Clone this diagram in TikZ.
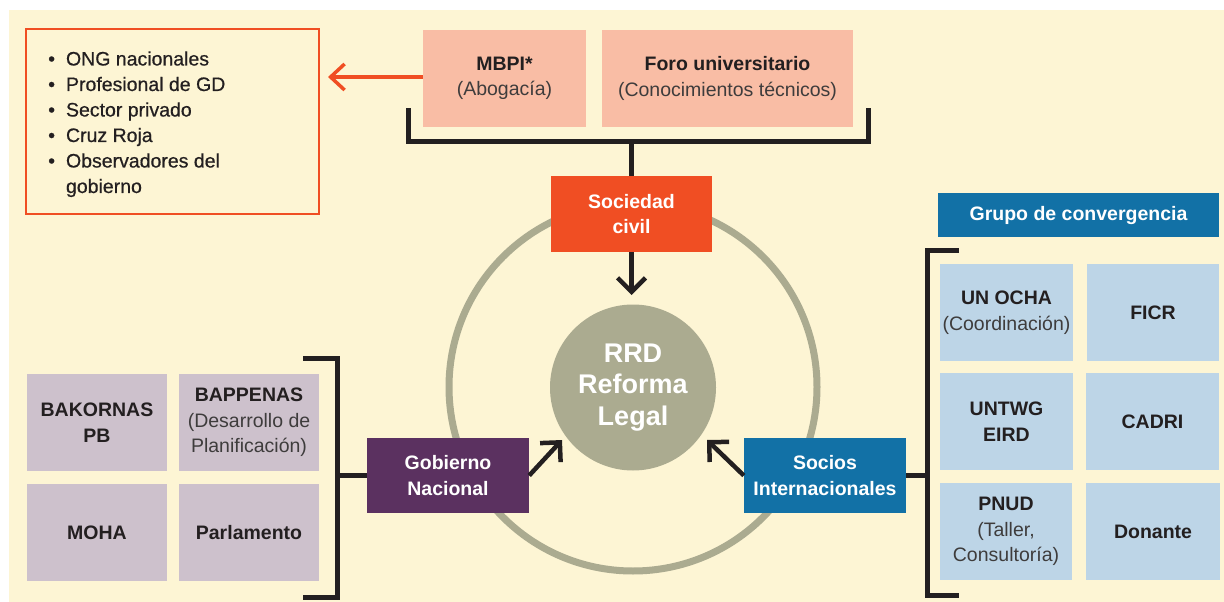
\documentclass[tikz,border=0pt]{standalone}
\usepackage{fontspec}
\setmainfont{Liberation Sans}
\newfontfamily\medfont[FakeBold=0.6]{Liberation Sans}
\usetikzlibrary{arrows.meta}
\definecolor{cream}{RGB}{253,245,212}
\definecolor{redo}{RGB}{240,78,35}
\definecolor{salmon}{RGB}{249,189,165}
\definecolor{ring}{RGB}{171,171,144}
\definecolor{purp}{RGB}{91,49,96}
\definecolor{blu}{RGB}{18,113,166}
\definecolor{lblue}{RGB}{189,213,231}
\definecolor{mauve}{RGB}{205,193,204}
\definecolor{ink}{RGB}{35,31,32}
\definecolor{soft}{RGB}{62,60,60}
\newcommand\lblfont{\fontsize{19.5}{25.5}\selectfont}
\newcommand\lt[1]{{\mdseries\color{soft}#1}}
\begin{document}
\begin{tikzpicture}[x=1pt,y=-1pt,
  lbl/.style={inner sep=0pt, align=center, font=\lblfont\bfseries, text=ink},
  pbox/.style={lbl, fill=salmon, minimum height=97pt},
  mbox/.style={lbl, fill=mauve, minimum width=140pt, minimum height=97pt},
  bbox/.style={lbl, fill=lblue, minimum width=133pt, minimum height=97pt},
  hub/.style={lbl, text=white, minimum width=162pt, minimum height=75pt},
  brk/.style={line width=5pt, draw=ink, line join=miter},
  arr/.style={line width=4.5pt, draw=ink, -{Straight Barb[length=14pt,width=28pt]}},
]
\useasboundingbox (0,0) rectangle (1224,602);
\fill[white] (0,0) rectangle (1224,602);
\fill[cream] (9,10) rectangle (1224,602);

% ring
\draw[ring, line width=7pt] (633,387) circle[radius=184];

% left list box
\node[draw=redo, line width=2pt, minimum width=293pt, minimum height=185pt, inner sep=0pt] (list) at (172.5,121.5) {};
\node[anchor=base west, inner sep=0pt, text=ink, font=\medfont\fontsize{19.5}{25.5}\selectfont] (items) at (48,65.5)
 {\begin{tabular}[t]{@{}l@{\hspace{11pt}}l@{}}
 •& ONG nacionales\\
 •& Profesional de GD\\
 •& Sector privado\\
 •& Cruz Roja\\
 •& Observadores del\\
  & gobierno
 \end{tabular}};

% top boxes
\node[pbox, minimum width=163pt] (mbpi) at (504.5,78.5) {MBPI*\\\lt{(Abogacía)}};
\node[pbox, minimum width=251pt] (foro) at (727.5,78.5) {Foro universitario\\\lt{(Conocimientos técnicos)}};
\coordinate (listtip) at (328,77);
\draw[redo, line width=3.5pt, -{Straight Barb[length=14pt,width=26pt]}] (mbpi.west |- listtip) -- (listtip);

% top bracket
\draw[brk] (408,108) -- (408,141) -- (868,141) -- (868,108);
\coordinate (topbr) at (631.5,141);

% hubs
\node[hub, fill=redo, minimum width=161pt, minimum height=76pt] (soc) at (631.5,214) {Sociedad\\civil};
\node[hub, fill=purp] (gob) at (448,475.5) {Gobierno\\Nacional};
\node[hub, fill=blu] (int) at (825,475.5) {Socios\\Internacionales};

% center
\node[circle, fill=ring, minimum size=166pt, inner sep=0pt, align=center, text=white,
      font=\fontsize{27}{31.5}\selectfont\bfseries] (rrd) at (633,387.5) {RRD\\Reforma\\Legal};

% connectors
\draw[line width=4.5pt, ink] (topbr) -- (soc.north);
\coordinate (soctip) at (631.5,295);
\draw[arr] (soc.south) -- (soctip);
\coordinate (gobtip) at (562,440);
\coordinate (inttip) at (707,440);
\draw[arr] (gob.east) -- (gobtip);
\draw[arr] (int.west) -- (inttip);

% left cluster
\node[mbox] (bak) at (97,422.5) {BAKORNAS\\PB};
\node[mbox] (bap) at (249,422.5) {BAPPENAS\\\lt{(Desarrollo de}\\\lt{Planificación)}};
\node[mbox] (moha) at (97,532.5) {MOHA};
\node[mbox] (parl) at (249,532.5) {Parlamento};
\draw[brk] (303,358) -- (337,358) -- (337,597) -- (303,597);
\coordinate (lbr) at (337,475.5);
\draw[line width=4.5pt, ink] (lbr) -- (gob.west);

% right cluster
\node[lbl, text=white, fill=blu, minimum width=281pt, minimum height=44pt] (grp) at (1078.5,215) {Grupo de convergencia};
\node[bbox] (ocha) at (1006.5,312.5) {UN OCHA\\\lt{(Coordinación)}};
\node[bbox, minimum width=132pt] (ficr) at (1153,312.5) {FICR};
\node[bbox] (untwg) at (1006.5,421.5) {UNTWG\\EIRD};
\node[bbox] (cadri) at (1152.5,421.5) {CADRI};
\node[bbox, minimum width=132pt] (pnud) at (1006,531.5) {PNUD\\\lt{(Taller,}\\\lt{Consultoría)}};
\node[bbox, minimum width=134pt] (don) at (1153,531.5) {Donante};
\draw[brk] (959,250) -- (927,250) -- (927,595) -- (959,595);
\coordinate (rbr) at (927,475.5);
\draw[line width=4.5pt, ink] (int.east) -- (rbr);
\end{tikzpicture}
\end{document}
